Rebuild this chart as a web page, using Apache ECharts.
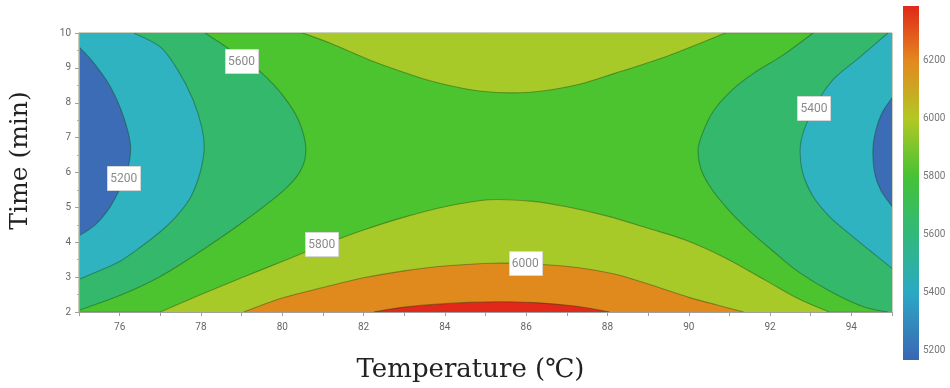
<!DOCTYPE html>
<html>
<head>
<meta charset="utf-8">
<script src="https://cdn.jsdelivr.net/npm/echarts@6/dist/echarts.min.js"></script>
<style>
  html, body { margin: 0; padding: 0; background: #fff; }
  #chart { width: 950px; height: 388px; }
</style>
</head>
<body>
<div id="chart"></div>
<script>
// Contour lines of the response surface, as [temperature, time] points.
var c5200Left  = [[75,9.6],[75.3,9.23],[75.7,8.6],[76.0,7.9],[76.2,7.2],[76.27,6.7],[76.22,6.2],[76.1,5.8],[75.95,5.4],[75.7,4.9],[75.4,4.5],[75.0,4.18]];
var c5400Left  = [[76.35,10],[77.0,9.6],[77.45,8.9],[77.8,8.1],[78.02,7.3],[78.08,6.7],[77.98,6.0],[77.75,5.3],[77.4,4.75],[77.0,4.3],[76.5,3.85],[76.0,3.45],[75.5,3.18],[75.0,2.94]];
var c5600Left  = [[78.1,10],[78.66,9.57],[79.0,9.25],[79.5,8.85],[80.04,8.17],[80.4,7.5],[80.58,6.7],[80.45,6.05],[80.0,5.45],[79.0,4.55],[78.0,3.75],[77.0,3.02],[76.0,2.47],[75.0,2.05]];
var c5800Top   = [[80.5,10],[81.2,9.7],[82.1,9.25],[83.0,8.87],[83.8,8.58],[84.9,8.33],[86.1,8.3],[87.2,8.5],[88.2,8.85],[89.5,9.35],[90.9,10]];
var c5800Low   = [[77.0,2.0],[78.0,2.5],[79.0,2.98],[80.0,3.45],[81.0,3.92],[82.0,4.35],[83.0,4.72],[84.0,5.02],[85.1,5.22],[86.1,5.18],[87.0,5.02],[88.0,4.75],[89.0,4.4],[89.9,4.07],[90.9,3.55],[91.9,2.9],[92.7,2.38],[93.45,2.0]];
var c6000Low   = [[79.05,2.0],[80.0,2.4],[81.0,2.7],[82.0,2.98],[83.0,3.18],[84.0,3.32],[85.2,3.4],[86.3,3.37],[87.3,3.27],[88.2,3.08],[89.0,2.8],[90.0,2.42],[90.7,2.2],[91.35,2.0]];
var c6200Low   = [[82.25,2.0],[83.0,2.14],[84.0,2.24],[85.1,2.29],[86.2,2.27],[87.2,2.17],[88.05,2.0]];
var c5600Right = [[93.06,10],[92.3,9.35],[91.6,8.85],[91.05,8.35],[90.6,7.75],[90.33,7.1],[90.23,6.65],[90.3,6.1],[90.55,5.55],[91.0,4.9],[91.5,4.32],[92.1,3.72],[92.7,3.15],[93.5,2.58],[94.3,2.15],[94.9,2.0]];
var c5400Right = [[94.9,10],[94.2,9.3],[93.55,8.66],[93.1,7.9],[92.83,7.2],[92.74,6.66],[92.8,6.0],[93.06,5.31],[93.45,4.75],[93.9,4.29],[94.5,3.72],[95.0,3.25]];
var c5200Right = [[95,8.14],[94.75,7.7],[94.6,7.2],[94.53,6.66],[94.57,6.0],[94.72,5.5],[95,5.03]];

// Contour level labels: [temperature, time, level]
var levelLabels = [[76.1,5.85,5200],[93.08,7.86,5400],[79.0,9.2,5600],[80.97,3.95,5800],[85.98,3.4,6000]];

// Axis ranges and colour-bar scale
var tempRange = [75, 95];
var timeRange = [2, 10];
var barRange = [5166, 6390];
var barTicks = [5200, 5400, 5600, 5800, 6000, 6200];

var COL = {
  blue: '#3d6cb6', cyan: '#2fb3c0', teal: '#34b96c', green: '#4cc42f',
  yellow: '#a8ca29', orange: '#e08a1e', red: '#e1281a'
};

// Each band: the contour curve, the plot corners that close it, and its fill.
var regions = [
  { curve: c5800Top,   corners: [],                fill: COL.yellow },
  { curve: c5800Low,   corners: [],                fill: COL.yellow },
  { curve: c6000Low,   corners: [],                fill: COL.orange },
  { curve: c6200Low,   corners: [],                fill: COL.red },
  { curve: c5600Left,  corners: [[75, 10]],        fill: COL.teal },
  { curve: c5400Left,  corners: [[75, 10]],        fill: COL.cyan },
  { curve: c5200Left,  corners: [],                fill: COL.blue },
  { curve: c5600Right, corners: [[95, 2], [95, 10]], fill: COL.teal },
  { curve: c5400Right, corners: [[95, 10]],        fill: COL.cyan },
  { curve: c5200Right, corners: [],                fill: COL.blue }
];

// Smooth path through screen points (Catmull-Rom as cubic Bezier segments).
function curvePath(pts) {
  var d = 'M' + pts[0][0] + ' ' + pts[0][1];
  for (var i = 0; i < pts.length - 1; i++) {
    var p0 = pts[Math.max(i - 1, 0)], p1 = pts[i], p2 = pts[i + 1], p3 = pts[Math.min(i + 2, pts.length - 1)];
    var c1x = p1[0] + (p2[0] - p0[0]) / 6, c1y = p1[1] + (p2[1] - p0[1]) / 6;
    var c2x = p2[0] - (p3[0] - p1[0]) / 6, c2y = p2[1] - (p3[1] - p1[1]) / 6;
    d += ' C' + c1x + ' ' + c1y + ' ' + c2x + ' ' + c2y + ' ' + p2[0] + ' ' + p2[1];
  }
  return d;
}

var chart = echarts.init(document.getElementById('chart'));

var series = [];
regions.forEach(function (r, i) {
  series.push({
    type: 'custom',
    xAxisIndex: 0, yAxisIndex: 0,
    z: 2 + i * 0.01,
    silent: true,
    clip: true,
    data: [r.curve[0]],
    renderItem: function (params, api) {
      var pts = r.curve.map(function (p) { return api.coord(p); });
      var fillPath = curvePath(pts);
      r.corners.forEach(function (c) {
        var q = api.coord(c);
        fillPath += ' L' + q[0] + ' ' + q[1];
      });
      fillPath += ' Z';
      return {
        type: 'group',
        children: [
          { type: 'path', shape: { pathData: fillPath }, style: { fill: r.fill, stroke: null } },
          { type: 'path', z2: 5, shape: { pathData: curvePath(pts) },
            style: { fill: null, stroke: 'rgba(25,60,20,0.4)', lineWidth: 1.1 } }
        ]
      };
    }
  });
});

// Level labels: white boxes centred on the contour lines.
series.push({
  type: 'custom',
  xAxisIndex: 0, yAxisIndex: 0,
  z: 6,
  silent: true,
  data: levelLabels,
  renderItem: function (params, api) {
    var p = api.coord([api.value(0), api.value(1)]);
    var w = 33, h = 24;
    return {
      type: 'group',
      children: [
        { type: 'rect', shape: { x: Math.round(p[0] - w / 2) + 0.5, y: Math.round(p[1] - h / 2) + 0.5, width: w, height: h },
          style: { fill: '#ffffff', stroke: '#d6d6d6', lineWidth: 1 } },
        { type: 'text', x: p[0], y: p[1] + 1,
          style: { text: String(api.value(2)), fill: '#8a8a8a', fontSize: 12,
                   fontFamily: 'Liberation Sans Narrow, Roboto, sans-serif',
                   align: 'center', verticalAlign: 'middle' } }
      ]
    };
  }
});

// Colour bar
series.push({
  type: 'custom',
  xAxisIndex: 1, yAxisIndex: 1,
  silent: true,
  data: [[0, barRange[0], barRange[1]]],
  renderItem: function (params, api) {
    var lo = api.coord([0, api.value(1)]);
    var hi = api.coord([1, api.value(2)]);
    var span = barRange[1] - barRange[0];
    var off = function (v) { return (barRange[1] - v) / span; };
    return {
      type: 'rect',
      shape: { x: lo[0], y: hi[1], width: hi[0] - lo[0], height: lo[1] - hi[1] },
      style: {
        fill: new echarts.graphic.LinearGradient(0, 0, 0, 1, [
          { offset: 0, color: COL.red },
          { offset: off(6200), color: '#e3881f' },
          { offset: off(6000), color: '#b2c825' },
          { offset: off(5800), color: '#45c236' },
          { offset: off(5600), color: '#30b97a' },
          { offset: off(5400), color: '#2ba9c3' },
          { offset: 1, color: '#3a66b5' }
        ])
      }
    };
  }
});

var tickFont = 'Liberation Sans Narrow, Roboto, sans-serif';

chart.setOption({
  animation: false,
  grid: [
    { left: 78, top: 33, width: 814, height: 280, show: true, backgroundColor: COL.green,
      borderColor: 'rgba(110,120,60,0.7)', borderWidth: 1 },
    { left: 903, top: 6, width: 16, height: 354 }
  ],
  xAxis: [
    {
      gridIndex: 0, type: 'value', min: tempRange[0], max: tempRange[1], interval: 1,
      z: 10,
      name: 'Temperature (℃)', nameLocation: 'middle', nameGap: 45,
      nameTextStyle: { fontFamily: 'DejaVu Serif, serif', fontSize: 26, color: '#222', padding: [0, 30, 0, 0] },
      axisLine: { show: true, lineStyle: { color: '#a0a0a0' } },
      axisTick: { show: true, length: 4, lineStyle: { color: '#a0a0a0' } },
      axisLabel: {
        color: '#666', fontSize: 10, fontFamily: tickFont, margin: 10,
        formatter: function (v) { return v % 2 === 0 ? String(v) : ''; }
      },
      splitLine: { show: false }
    },
    { gridIndex: 1, type: 'value', min: 0, max: 1, show: false }
  ],
  yAxis: [
    {
      gridIndex: 0, type: 'value', min: timeRange[0], max: timeRange[1], interval: 1,
      z: 10,
      name: 'Time (min)', nameLocation: 'middle', nameGap: 46, nameRotate: 90,
      nameTextStyle: { fontFamily: 'DejaVu Serif, serif', fontSize: 25, color: '#222', padding: [0, 0, 0, 24] },
      axisLine: { show: true, lineStyle: { color: '#a0a0a0' } },
      axisTick: { show: true, length: 4, lineStyle: { color: '#a0a0a0' } },
      minorTick: { show: true, splitNumber: 2, length: 2, lineStyle: { color: '#b0b0b0' } },
      axisLabel: { color: '#666', fontSize: 10, fontFamily: tickFont, margin: 8 },
      splitLine: { show: false }
    },
    {
      gridIndex: 1, type: 'value', min: barRange[0], max: barRange[1], position: 'right',
      axisLine: { show: false },
      axisTick: { show: false },
      splitLine: { show: false },
      axisLabel: {
        customValues: barTicks,
        formatter: function (v) { return String(v); },
        color: '#777', fontSize: 10, fontFamily: tickFont, margin: 4
      }
    }
  ],
  series: series
});
</script>
</body>
</html>
